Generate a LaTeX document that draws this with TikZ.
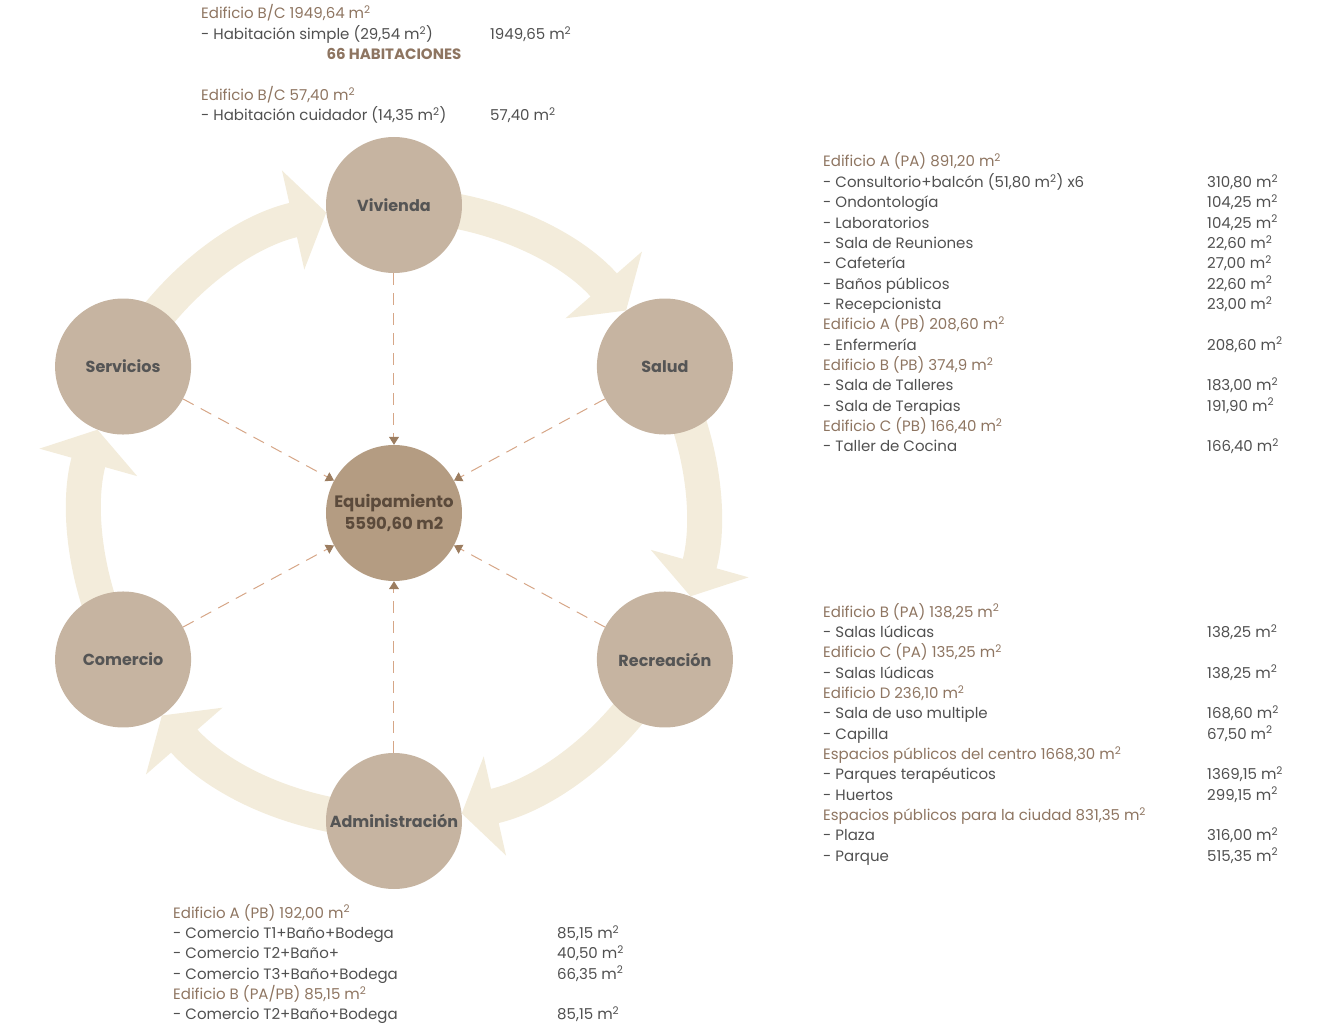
\documentclass[tikz,border=0pt]{standalone}
\usepackage{fontspec}
\setmainfont{Poppins}
\usetikzlibrary{arrows.meta, backgrounds}
\definecolor{ctan}{HTML}{C6B4A1}
\definecolor{cdeep}{HTML}{B49C82}
\definecolor{ccream}{HTML}{F3ECDB}
\definecolor{cdash}{HTML}{D6A687}
\definecolor{ctip}{HTML}{9C7D60}
\definecolor{chead}{HTML}{8E7561}
\definecolor{ctext}{HTML}{505050}
\definecolor{clabel}{HTML}{555555}
\definecolor{cdark}{HTML}{5B4A3B}
\newcommand{\edif}[1]{\multicolumn{2}{@{}l@{}}{\color{chead}#1}}
\newcommand{\msq}{m\textsuperscript{2}}
\tikzset{
  every picture/.style={x=1pt, y=1pt},
  area/.style={circle, fill=ctan, minimum size=136pt, inner sep=0pt, align=center,
    font=\fontsize{16}{22}\selectfont\bfseries, text=clabel},
  flow/.style={draw=ccream, line width=35pt, -{Triangle[length=34pt, width=100pt]}},
  link/.style={draw=cdash, line width=1pt, dash pattern=on 12pt off 8pt,
    -{Triangle[length=8pt, width=10pt, color=ctip]}},
  list/.style={anchor=base west, inner sep=0pt, font=\fontsize{15}{20.35}\selectfont, text=ctext},
}

\begin{document}
\begin{tikzpicture}
  \useasboundingbox (-394,-513) rectangle (937,513);
  % the six uses around the centre
  \node[area, fill=cdeep, text=cdark, font=\fontsize{16.5}{22}\selectfont\bfseries] (eq) at (0,0) {Equipamiento\\5590,60 m2};
  \node[area] (viv) at (90:308) {Vivienda};
  \node[area] (sal) at (28.4:308) {Salud};
  \node[area] (rec) at (-28.4:308) {Recreación};
  \node[area] (adm) at (-90:308) {Administración};
  \node[area] (com) at (208.4:308) {Comercio};
  \node[area] (srv) at (151.6:308) {Servicios};
  % cycle arrows, behind the circles
  \begin{scope}[on background layer]
    \draw[flow] (srv.center) arc[start angle=151.6, end angle=102.7, radius=308];
    \draw[flow] (viv.center) arc[start angle=90, end angle=41.1, radius=308];
    \draw[flow] (sal.center) arc[start angle=28.4, end angle=-15.7, radius=308];
    \draw[flow] (rec.center) arc[start angle=-28.4, end angle=-77.3, radius=308];
    \draw[flow] (adm.center) arc[start angle=-90, end angle=-138.9, radius=308];
    \draw[flow] (com.center) arc[start angle=208.4, end angle=164.3, radius=308];
  \end{scope}
  \foreach \n in {viv,sal,rec,adm,com,srv} \draw[link] (\n) -- (eq);
  % areas per building
  \node[list] (tvi) at (-193,494) {\begin{tabular}[t]{@{}p{289pt}@{}l@{}}
    \edif{Edificio B/C 1949,64 \msq}\\
    - Habitación simple (29,54 \msq) & 1949,65 \msq\\
    & \\ & \\
    \edif{Edificio B/C 57,40 \msq}\\
    - Habitación cuidador (14,35 \msq) & 57,40 \msq
  \end{tabular}};
  \node[anchor=base, inner sep=0pt, font=\fontsize{15}{20.35}\selectfont\bfseries, text=chead] (hab) at (0,453) {66 HABITACIONES};
  \node[list] (tsa) at (429,346) {\begin{tabular}[t]{@{}p{384pt}@{}l@{}}
    \edif{Edificio A (PA) 891,20 \msq}\\
    - Consultorio+balcón (51,80 \msq) x6 & 310,80 \msq\\
    - Ondontología & 104,25 \msq\\
    - Laboratorios & 104,25 \msq\\
    - Sala de Reuniones & 22,60 \msq\\
    - Cafetería & 27,00 \msq\\
    - Baños públicos & 22,60 \msq\\
    - Recepcionista & 23,00 \msq\\
    \edif{Edificio A (PB) 208,60 \msq}\\
    - Enfermería & 208,60 \msq\\
    \edif{Edificio B (PB) 374,9 \msq}\\
    - Sala de Talleres & 183,00 \msq\\
    - Sala de Terapias & 191,90 \msq\\
    \edif{Edificio C (PB) 166,40 \msq}\\
    - Taller de Cocina & 166,40 \msq
  \end{tabular}};
  \node[list] (tre) at (429,-104) {\begin{tabular}[t]{@{}p{384pt}@{}l@{}}
    \edif{Edificio B (PA) 138,25 \msq}\\
    - Salas lúdicas & 138,25 \msq\\
    \edif{Edificio C (PA) 135,25 \msq}\\
    - Salas lúdicas & 138,25 \msq\\
    \edif{Edificio D 236,10 \msq}\\
    - Sala de uso multiple & 168,60 \msq\\
    - Capilla & 67,50 \msq\\
    \edif{Espacios públicos del centro 1668,30 \msq}\\
    - Parques terapéuticos & 1369,15 \msq\\
    - Huertos & 299,15 \msq\\
    \edif{Espacios públicos para la ciudad 831,35 \msq}\\
    - Plaza & 316,00 \msq\\
    - Parque & 515,35 \msq
  \end{tabular}};
  \node[list] (tco) at (-221,-405) {\begin{tabular}[t]{@{}p{384pt}@{}l@{}}
    \edif{Edificio A (PB) 192,00 \msq}\\
    - Comercio T1+Baño+Bodega & 85,15 \msq\\
    - Comercio T2+Baño+ & 40,50 \msq\\
    - Comercio T3+Baño+Bodega & 66,35 \msq\\
    \edif{Edificio B (PA/PB) 85,15 \msq}\\
    - Comercio T2+Baño+Bodega & 85,15 \msq
  \end{tabular}};
\end{tikzpicture}
\end{document}
